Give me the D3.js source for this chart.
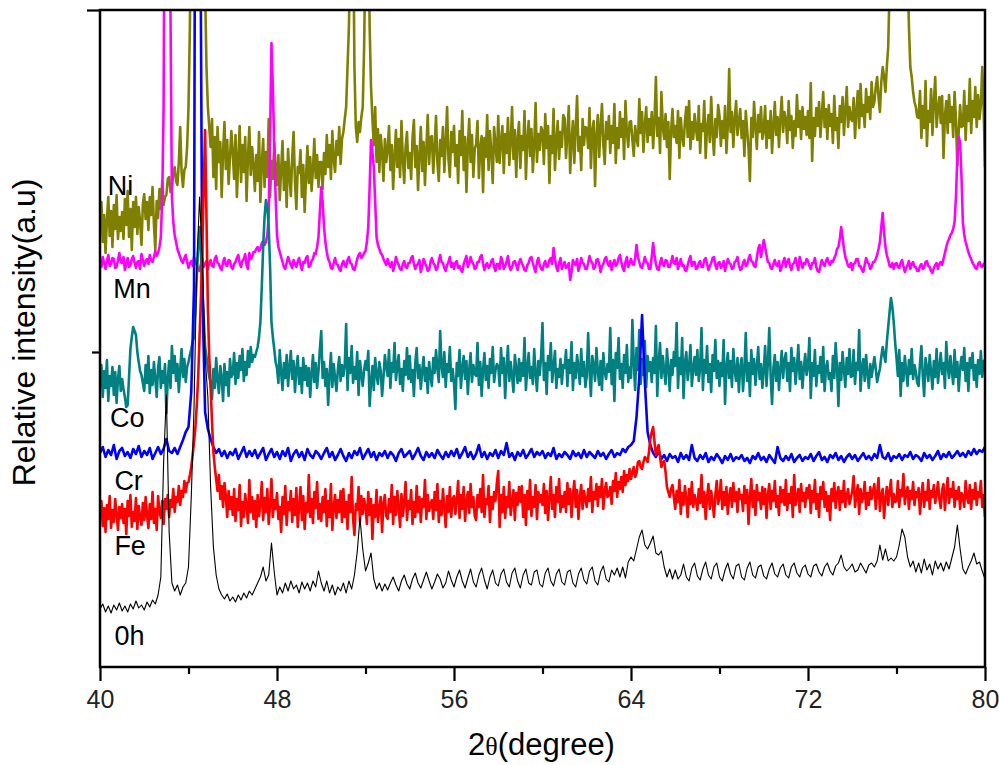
<!DOCTYPE html>
<html><head><meta charset="utf-8">
<script src="https://cdn.jsdelivr.net/npm/d3@7/dist/d3.min.js"></script>
<style>body{margin:0;background:#fff}svg{display:block}</style>
</head><body>
<svg id="chart" width="999" height="765"></svg>
<script>
// 2θ sampling grids (degrees): fine = step 1/16, coarse = step 1/8, both 40..80
const twoThetaFine = d3.range(641).map(i => 40 + i / 16);
const twoThetaCoarse = d3.range(321).map(i => 40 + i / 8);
const xTicks = [40, 48, 56, 64, 72, 80];
const xMinorTicks = [44, 52, 60, 68, 76];
const seriesNames = ["Ni", "Mn", "Co", "Cr", "Fe", "0h"];

// relative intensities (a.u.) -- fine grid, 16 values per degree
const ni = [
440,465,425,452,414,447,470,431,456,420,462,438,472,428,450,436,
455,428,468,442,476,430,458,417,465,440,470,433,460,445,422,463,
473,448,465,437,470,452,480,443,417,466,449,478,458,486,462,470,
472,488,490,475,478,495,500,486,482,505,540,495,480,497,500,520,
560,640,800,980,1200,1300,1400,1350,1200,1050,900,750,680,600,560,540,
520,548,490,530,478,540,505,525,470,515,545,498,527,483,510,536,
514,488,532,470,508,541,485,522,495,530,466,510,540,492,520,502,
476,512,486,535,465,503,528,480,515,490,548,470,506,488,524,500,
482,512,467,498,526,477,505,460,518,492,471,510,535,485,458,500,
494,517,470,502,455,490,521,484,510,476,498,528,489,512,480,505,
505,478,514,493,532,500,522,488,536,508,495,526,512,540,503,528,
535,548,560,600,640,720,800,760,600,540,525,545,535,550,560,620,
720,800,760,640,580,548,522,560,505,538,495,532,515,486,528,505,
518,541,497,522,478,510,537,500,528,490,546,508,484,520,535,499,
514,488,529,547,500,521,477,512,540,496,525,482,518,552,503,530,
531,494,519,551,504,486,527,511,540,495,523,560,508,490,535,515,
541,501,522,484,536,512,556,497,530,475,520,548,505,532,490,518,
523,546,489,519,531,475,529,510,552,497,536,515,484,540,522,505,
551,504,526,541,494,533,514,549,502,525,560,508,537,490,528,545,
499,531,517,556,488,527,546,511,538,495,522,564,505,533,517,540,
536,503,553,519,541,484,531,514,558,497,525,546,508,535,520,552,
549,509,533,561,494,526,546,504,538,571,516,530,497,548,522,540,
539,519,559,499,536,546,481,531,552,510,540,563,522,503,545,528,
551,514,541,524,563,504,539,519,555,530,548,508,566,535,520,545,
546,527,511,541,529,521,568,534,555,515,542,560,525,548,532,555,
519,546,590,531,549,514,575,540,528,553,520,545,488,536,558,530,
541,524,556,509,549,531,521,546,560,530,566,518,545,528,553,538,
527,561,514,543,536,566,509,539,552,525,570,534,512,548,530,562,
551,521,546,529,561,514,541,598,535,555,520,548,566,532,545,558,
529,546,511,556,537,519,486,549,530,565,540,518,552,535,560,528,
536,561,519,546,529,556,514,541,565,532,550,520,548,570,535,555,
547,524,566,537,551,519,546,531,572,540,556,528,560,538,550,532,
556,529,584,506,549,531,559,541,565,530,552,575,540,558,528,562,
541,553,524,571,537,549,519,561,545,570,532,556,580,540,560,548,
546,569,529,556,576,539,583,551,562,540,578,555,570,548,585,560,
565,580,590,570,555,585,600,590,575,600,620,680,760,830,900,960,
1000,1030,1050,1040,1000,950,900,800,700,640,600,590,575,565,560,550,
549,576,529,561,539,586,521,556,545,578,532,565,590,540,558,570,
544,571,509,551,566,534,572,545,560,530,575,548,501,536,562,540,
541,576,527,561,546,588,534,566,550,580,540,572,548,562,600,560,
500];

const mn = [
405,400,410,404,398,406,412,401,403,409,408,399,400,407,414,405,
404,410,397,403,409,400,402,408,411,404,399,405,406,398,413,407,
401,406,408,403,412,407,405,410,416,411,414,420,430,470,560,900,
1400,1300,900,650,470,445,432,425,418,414,410,406,404,409,412,405,
399,404,406,401,410,405,402,397,396,403,408,400,403,406,398,404,
407,401,400,408,411,404,403,399,397,405,409,402,401,407,406,400,
398,403,405,409,412,404,400,406,408,413,402,398,414,408,410,415,
415,418,420,416,418,424,426,422,425,432,450,530,624,580,520,470,
432,420,415,410,405,400,398,404,410,406,402,399,407,403,400,406,
409,402,397,405,404,409,411,400,401,406,408,414,413,420,430,455,
480,465,440,425,415,408,405,399,398,404,409,403,402,398,396,403,
406,402,400,407,410,404,403,398,397,402,408,412,414,409,411,414,
416,425,440,480,527,515,500,465,430,422,418,414,412,408,405,402,
408,403,400,405,396,401,410,405,402,398,397,403,406,400,399,404,
404,409,411,403,398,402,403,407,395,400,408,404,401,396,397,405,
409,404,402,397,399,406,412,405,404,399,396,402,405,410,400,404,
398,404,406,399,401,397,395,403,407,411,400,404,410,405,403,398,
399,405,405,410,412,403,397,402,404,399,401,406,408,400,396,403,
403,398,410,406,398,401,405,411,401,397,400,405,406,402,397,404,
408,404,401,397,396,402,404,409,410,404,399,395,405,409,402,398,
397,403,406,400,401,407,409,403,419,408,400,396,404,409,398,402,
405,399,400,404,387,395,407,403,402,408,396,401,409,404,403,398,
398,404,411,406,404,398,400,407,408,403,395,401,403,408,410,404,
401,406,397,403,407,401,403,409,412,405,399,396,405,410,400,404,
408,403,402,409,422,410,405,400,399,404,410,405,404,398,398,410,
424,412,403,398,397,404,409,402,401,407,406,400,400,405,411,404,
403,409,398,403,408,401,402,397,396,402,407,411,401,405,405,398,
399,404,406,400,400,407,409,403,397,401,404,409,410,402,398,404,
405,399,401,406,396,402,408,404,403,398,399,405,406,410,402,397,
398,404,407,401,402,408,412,406,405,401,400,409,418,422,410,418,
427,420,412,405,404,399,398,403,407,402,401,406,396,400,405,409,
400,405,408,401,397,403,404,409,402,397,410,405,399,404,403,408,
406,401,398,404,404,409,400,396,395,401,407,403,401,406,409,404,
402,406,405,409,412,418,420,428,440,430,418,410,406,401,400,404,
397,403,404,408,408,401,401,397,395,402,409,405,403,398,400,405,
405,408,412,418,425,440,454,435,420,412,407,401,400,404,398,403,
404,400,399,404,407,401,395,399,402,406,398,403,405,400,400,396,
396,401,403,398,399,405,406,401,400,396,394,399,402,404,398,403,
405,402,408,414,420,425,428,432,434,438,445,470,510,530,525,490,
445,432,425,420,415,411,408,404,402,399,398,403,405,401,400,403,
404];

const co = [
285,302,270,296,279,307,266,291,281,300,272,295,264,288,301,276,
288,278,270,260,262,290,318,330,340,336,332,315,305,296,292,284,
276,302,284,311,274,297,282,305,288,270,299,310,279,296,284,303,
254,288,306,279,321,294,311,286,303,275,297,318,290,308,285,300,
305,312,318,325,330,360,390,420,440,415,380,350,320,310,300,290,
284,268,298,279,309,287,274,301,289,266,303,282,295,271,308,290,
293,314,283,304,289,311,297,318,286,305,292,316,300,320,305,312,
310,315,320,330,345,380,420,450,467,460,440,400,345,330,318,305,
299,284,317,294,277,304,289,312,281,300,316,288,306,275,298,311,
283,299,274,309,287,301,281,299,270,293,312,285,304,279,296,318,
336,289,305,281,298,262,292,314,280,303,289,276,297,310,286,302,
291,302,343,277,309,294,321,284,300,288,315,272,306,293,281,297,
306,297,316,261,285,301,277,309,292,283,305,296,271,290,312,300,
291,317,279,304,295,324,287,301,312,283,298,276,306,292,319,288,
311,285,297,271,304,319,289,302,278,296,310,286,299,274,305,291,
281,309,294,317,299,285,336,301,290,315,280,303,295,320,286,298,
284,258,304,291,317,279,299,311,288,306,273,297,314,285,302,293,
291,324,282,305,271,297,314,287,301,279,308,294,320,285,297,303,
301,281,319,294,309,269,299,321,286,305,291,275,312,298,284,308,
286,304,291,329,277,299,314,289,300,283,318,294,276,306,292,311,
344,287,304,273,311,297,324,285,300,316,279,298,290,308,283,302,
299,317,281,307,294,325,277,304,289,312,299,283,318,291,305,280,
291,334,297,271,311,301,286,319,296,282,306,277,314,295,288,303,
295,339,283,307,266,314,299,329,288,303,279,312,294,322,285,300,
289,347,304,277,319,297,337,283,308,292,326,280,311,296,305,285,
309,294,341,271,304,324,289,311,296,283,318,299,276,307,292,315,
301,344,279,309,293,329,269,304,315,287,300,322,281,298,310,292,
317,286,299,339,277,307,294,321,285,303,275,312,296,327,289,306,
281,304,291,327,263,299,314,289,306,280,318,297,286,309,275,300,
309,276,297,334,286,304,271,317,293,308,282,300,320,288,303,279,
297,321,281,304,339,291,263,299,312,286,305,277,298,316,289,307,
314,286,304,276,319,296,309,283,300,322,288,305,279,299,313,292,
301,329,269,304,291,317,281,301,294,310,285,320,276,299,306,288,
294,276,311,289,324,299,261,304,287,315,297,280,309,293,318,290,
291,317,283,304,297,337,276,299,308,286,312,294,279,303,290,300,
310,298,285,292,298,310,320,312,305,325,340,355,369,360,345,325,
309,291,317,271,304,286,311,296,281,307,293,318,288,302,295,284,
281,304,321,291,271,309,299,286,312,295,278,306,290,318,284,300,
314,293,304,279,325,301,289,311,296,283,317,290,305,276,299,310,
297,319,286,304,276,309,299,314,287,302,280,307,293,316,290,306,
307];

const fe = [
150,166,141,159,135,162,148,171,139,157,145,168,152,137,160,149,
163,144,158,133,166,151,172,140,155,146,169,138,161,150,142,164,
147,170,152,139,163,148,175,144,158,137,171,155,149,166,143,168,
158,172,150,167,160,178,155,170,165,181,162,176,170,186,175,184,
185,192,200,212,225,240,262,290,330,370,420,480,537,450,360,310,
280,245,215,200,188,176,192,168,181,160,184,171,150,176,158,170,
152,178,146,168,157,182,141,165,150,173,160,144,187,155,170,148,
166,140,172,151,163,185,147,169,155,178,143,162,188,150,167,158,
174,148,160,135,170,153,181,142,165,157,176,145,168,152,179,140,
161,180,147,171,138,164,155,192,150,168,144,175,159,185,148,163,
146,170,155,178,141,166,150,183,137,160,172,149,167,155,176,145,
178,150,165,138,172,155,190,148,132,163,157,180,145,171,153,168,
160,143,175,152,168,128,162,150,177,145,158,170,135,164,172,151,
148,168,155,182,143,170,152,176,160,140,173,151,165,185,147,166,
158,177,143,165,150,181,155,170,145,168,160,187,148,172,156,163,
167,148,175,157,183,145,166,152,178,160,140,171,155,180,150,168,
171,153,168,186,149,172,158,180,146,165,175,154,183,160,170,151,
147,172,160,178,155,192,150,168,163,181,145,170,158,175,166,184,
196,140,172,155,180,149,170,160,185,152,166,177,147,174,162,180,
165,181,150,172,142,176,158,187,151,170,160,182,148,175,165,172,
162,183,154,176,147,170,190,158,172,150,180,165,188,155,171,160,
175,155,184,163,178,150,172,186,160,177,148,170,182,158,176,168,
160,178,166,190,155,175,168,183,161,180,170,188,158,176,184,170,
172,180,163,186,176,194,170,185,178,190,175,196,182,192,186,198,
188,195,200,190,194,205,206,200,198,205,210,208,205,215,228,235,
240,225,212,218,222,210,200,205,206,195,180,175,170,178,182,170,
158,176,165,187,153,174,162,181,168,150,178,163,185,160,172,166,
157,178,164,192,160,175,148,170,183,158,176,165,150,172,186,163,
170,187,158,175,162,180,153,171,179,160,184,166,175,155,178,168,
172,156,181,164,177,143,170,188,160,176,152,182,167,174,158,180,
163,178,149,172,183,158,176,166,186,160,171,152,180,165,177,162,
187,157,173,164,180,150,192,162,170,178,155,183,166,174,160,179,
169,182,154,176,165,187,158,173,150,180,168,185,160,175,156,171,
147,178,166,184,159,174,180,157,176,165,186,160,171,178,163,169,
176,191,160,172,182,153,178,165,170,185,158,174,162,180,168,176,
183,158,174,189,156,172,178,149,168,180,162,176,187,160,173,165,
166,186,160,177,171,193,163,174,180,158,176,168,185,162,175,170,
179,153,172,184,160,175,167,187,158,176,170,182,164,173,185,168,
159,177,183,157,174,189,164,178,170,185,160,176,168,180,158,174,
171,160,186,170,164,182,158,177,168,184,162,175,170,186,160,172,
150];

// coarse grid, 8 values per degree
const cr = [
214,220,210,217,212,222,208,216, 219,211,215,209,218,213,221,210,
216,212,219,208,214,220,213,218, 228,216,214,219,213,220,227,235,
240,275,380,1500,900,380,255,238, 228,220,214,218,211,216,209,215,
212,218,208,214,220,210,216,211, 217,209,214,219,207,213,218,210,
215,208,216,211,219,206,213,217, 210,215,207,218,212,209,216,213,
208,214,219,210,215,207,212,218, 211,206,214,209,216,212,219,208,
213,218,210,215,207,214,211,216, 209,215,212,206,214,218,210,213,
216,208,213,219,211,207,215,210, 214,209,217,212,208,215,210,216,
211,218,209,214,220,210,215,208, 213,222,210,215,208,214,211,217,
209,216,212,224,210,214,207,215, 211,217,209,213,218,210,215,212,
216,209,214,211,219,208,213,210, 215,212,208,216,211,214,209,217,
210,215,212,209,216,211,214,208, 213,217,210,214,212,218,215,220,
222,226,250,290,352,285,235,222, 214,210,216,208,212,206,213,209,
211,205,214,208,212,207,222,209, 206,212,208,214,205,210,207,213,
209,204,211,207,213,206,210,208, 212,206,209,204,211,208,214,207,
210,205,212,208,204,220,209,206, 211,207,213,205,209,212,206,210,
208,213,206,211,215,207,210,205, 212,209,214,207,211,205,210,213,
208,212,206,210,214,208,211,207, 213,209,222,210,208,214,206,211,
209,213,207,212,210,215,208,212, 210,206,214,209,212,207,211,216,
208,213,210,215,209,212,216,211, 214,210,216,212,218,213,217,215,
220];

const h0 = [
58,63,55,61,54,62,57,64, 56,61,55,63,58,66,59,62,
57,65,60,67,63,72,90,205, 272,135,84,76,82,72,80,84,
100,170,260,400,470,410,310,270, 180,120,92,78,72,68,73,66,
70,65,72,67,74,69,76,72, 78,84,90,100,86,92,124,95,
72,80,74,84,76,86,78,82, 74,85,78,84,76,86,80,96,
84,76,86,74,82,72,80,76, 84,74,86,78,92,115,149,118,
96,104,114,88,78,84,76,83, 77,84,90,82,76,86,92,83,
78,88,94,84,79,87,95,86, 78,85,93,88,79,84,96,87,
80,90,97,86,79,89,98,85, 80,92,99,87,78,90,97,84,
81,93,98,85,80,94,99,86, 79,92,98,84,82,95,97,83,
80,94,99,86,81,93,98,85, 82,95,97,84,80,93,99,87,
83,96,100,86,82,95,101,88, 85,97,92,99,90,100,89,105,
110,106,118,130,137,122,118,124, 131,114,112,116,100,90,98,88,
97,88,92,103,90,86,99,104, 91,87,98,105,92,88,100,104,
90,86,97,104,93,88,101,103, 90,87,99,105,92,89,100,102,
91,88,98,104,93,90,99,103, 92,89,100,104,94,90,99,102,
93,90,101,103,95,91,100,104, 96,92,101,104,112,100,96,99,
103,95,97,104,99,94,102,104, 100,106,122,107,118,106,109,106,
110,122,138,130,110,100,106,95, 104,94,108,97,103,92,106,98,
104,96,105,98,109,120,142,118, 98,93,100,106,114,103,105,96,
88];

const seriesValues = [ni, mn, co, cr, fe, h0];
const seriesGrids = [twoThetaFine, twoThetaFine, twoThetaFine, twoThetaCoarse, twoThetaFine, twoThetaCoarse];
const seriesColors = ["#808000", "#FF00FF", "#008080", "#0000FF", "#FF0000", "#000000"];

const W = 999, H = 765;
const margin = {left: 100, right: 14, top: 10, bottom: 98};
const x = d3.scaleLinear().domain([40, 80]).range([margin.left, W - margin.right]);
const y = d3.scaleLinear().domain([0, 657]).range([H - margin.bottom, margin.top]);

const svg = d3.select("#chart");
svg.append("rect").attr("width", W).attr("height", H).attr("fill", "#fff");

svg.append("defs").append("clipPath").attr("id", "plotClip")
  .append("rect").attr("x", x(40)).attr("y", y(657)).attr("width", x(80) - x(40)).attr("height", y(0) - y(657));

const plot = svg.append("g").attr("clip-path", "url(#plotClip)");

seriesValues.forEach((vals, k) => {
  const grid = seriesGrids[k];
  const line = d3.line().x((d, i) => x(grid[i])).y(d => y(d));
  plot.append("path")
    .datum(vals)
    .attr("d", line)
    .attr("fill", "none")
    .attr("stroke", seriesColors[k])
    .attr("stroke-width", k === 5 ? 1.1 : 2.6)
    .attr("stroke-linejoin", "round")
    .attr("stroke-linecap", "butt");
});

const font = "'Liberation Sans', Arial, Helvetica, sans-serif";

// Axes
const xAxis = svg.append("g").attr("transform", `translate(0,${y(0)})`)
  .call(d3.axisBottom(x).tickValues(xTicks).tickSize(14).tickPadding(9).tickFormat(d3.format("d")));
const xMinor = svg.append("g").attr("transform", `translate(0,${y(0)})`)
  .call(d3.axisBottom(x).tickValues(xMinorTicks).tickSize(7).tickFormat(""));
const yMajor = svg.append("g").attr("transform", `translate(${x(40)},0)`)
  .call(d3.axisLeft(y).tickValues([657]).tickSize(13).tickFormat(""));
const yMinor = svg.append("g").attr("transform", `translate(${x(40)},0)`)
  .call(d3.axisLeft(y).tickValues([315]).tickSize(8).tickFormat(""));
[xAxis, xMinor, yMajor, yMinor].forEach(g => {
  g.select(".domain").remove();
  g.selectAll(".tick line").attr("stroke", "#000").attr("stroke-width", 2.2);
});
xAxis.selectAll(".tick text").attr("font-family", font).attr("font-size", 25).attr("fill", "#222");

// frame
svg.append("rect")
  .attr("x", x(40)).attr("y", y(657))
  .attr("width", x(80) - x(40)).attr("height", y(0) - y(657))
  .attr("fill", "none").attr("stroke", "#000").attr("stroke-width", 2.5);

// series labels
const labelPos = [[40.35, 472], [40.6, 369], [40.45, 240], [40.65, 177], [40.65, 112], [40.65, 22]];
seriesNames.forEach((name, k) => {
  svg.append("text")
    .attr("x", x(labelPos[k][0])).attr("y", y(labelPos[k][1]))
    .attr("font-family", font).attr("font-size", 27).attr("fill", "#000")
    .text(name);
});

// axis titles
const xt = svg.append("text")
  .attr("x", (x(40) + x(80)) / 2 - 1).attr("y", 755)
  .attr("text-anchor", "middle")
  .attr("font-family", font).attr("font-size", 31).attr("fill", "#000");
xt.append("tspan").text("2");
xt.append("tspan").attr("font-family", "'Liberation Serif', 'Times New Roman', serif").attr("font-size", 26).text("θ");
xt.append("tspan").text("(degree)");

svg.append("text")
  .attr("transform", `translate(35,${(y(0) + y(657)) / 2 - 6}) rotate(-90)`)
  .attr("text-anchor", "middle")
  .attr("font-family", font).attr("font-size", 32).attr("fill", "#000")
  .text("Relative intensity(a.u)");
</script>
</body></html>
